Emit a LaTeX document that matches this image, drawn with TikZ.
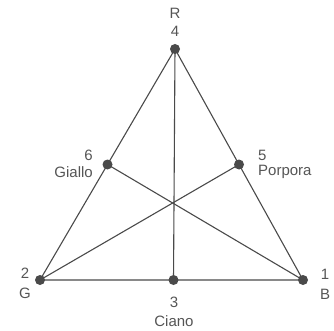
\documentclass[tikz,border=0pt]{standalone}
\usepackage{fontspec}
\setmainfont{Liberation Sans}
\definecolor{ink}{HTML}{4A4A4A}
\definecolor{txt}{HTML}{555555}
\begin{document}
\begin{tikzpicture}[x=1pt,y=-1pt,
  pt/.style={circle,fill=ink,inner sep=0pt,minimum size=10pt},
  ln/.style={draw=ink,line width=1.1pt},
  lab/.style={text=txt,font=\fontsize{15}{17}\selectfont,inner sep=0pt,align=center}]
\useasboundingbox (0,0) rectangle (334,331);
\coordinate (R) at (175,49);
\coordinate (G) at (40,280);
\coordinate (B) at (303,280);
\coordinate (C) at (173.5,280);
\coordinate (Y) at (107.5,164.5);
\coordinate (M) at (239,164.5);
\draw[ln] (R) -- (G) -- (B) -- cycle;
\draw[ln] (R) -- (C);
\draw[ln] (Y) -- (B);
\draw[ln] (M) -- (G);
\node[pt] (nR) at (R) {};
\node[pt] (nG) at (G) {};
\node[pt] (nB) at (B) {};
\node[pt] (nC) at (C) {};
\node[pt] (nY) at (Y) {};
\node[pt] (nM) at (M) {};
\node[lab] (lR) at (175,13) {R};
\node[lab] (l4) at (175,31) {4};
\node[lab] (l2) at (25,273) {2};
\node[lab] (lG) at (25,293) {G};
\node[lab] (l1) at (325,274) {1};
\node[lab] (lB) at (325,294) {B};
\node[lab] (l3) at (174,302) {3};
\node[lab] (lC) at (174,321) {Ciano};
\node[lab,anchor=east] (l6) at (93,155) {6};
\node[lab,anchor=east] (lY) at (93,172) {Giallo};
\node[lab,anchor=west] (l5) at (258,155) {5};
\node[lab,anchor=west] (lM) at (258,172) {Porpora};
\end{tikzpicture}
\end{document}
